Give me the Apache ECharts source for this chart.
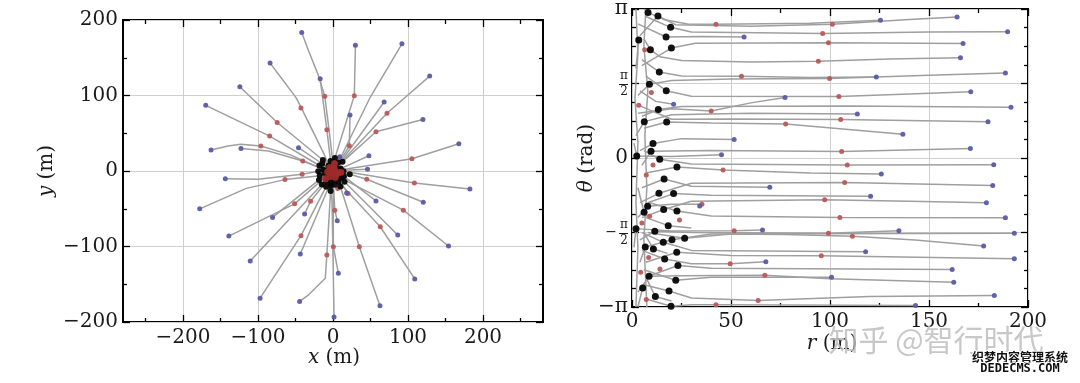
<!DOCTYPE html>
<html><head><meta charset="utf-8">
<script src="https://cdn.jsdelivr.net/npm/echarts@6/dist/echarts.min.js"></script>
<style>html,body{margin:0;padding:0;background:#fff}#c{width:1080px;height:383px}</style>
</head><body><div id="c"></div>
<script>
// ---------- LEFT PANEL: x (m), y (m) ----------
const xyTracks = [
 [[-3.4,2.1],[-13,1.9],[-56,21],[-96.2,33],[-123,35.4],[-140,33],[-162.6,27.7]],
 [[-6,0],[-8.1,0.6],[-40.3,13.2],[-86,26.5],[-122.7,29.9]],
 [[-6.9,1.1],[-18.1,7.3],[-84.4,46.2],[-169.7,87]],
 [[-2.9,0.9],[-14.3,9.6],[-46,30.8]],
 [[-1.8,4.6],[-13.5,14.6],[-74.4,64.2],[-124.2,111.6]],
 [[-4.9,3.5],[-6.1,7],[-11.7,22.1],[-42.4,84],[-49.3,97.2],[-62.6,114.8],[-83.9,142.9]],
 [[0.7,2.9],[0.1,8.8],[-4.7,49.8],[-10.9,98.9],[-20,128],[-32.5,159],[-41.7,183.3]],
 [[-2.4,4.4],[-3.3,13.4],[-8.2,54.7],[-17.1,122.2]],
 [[-1.1,6.9],[2.6,17.1],[28.4,99.8],[29.9,166.6]],
 [[1.8,2.4],[8,11],[21.8,33.4],[22.7,74.3]],
 [[0.6,4],[5,12],[8.9,19]],
 [[3.2,3.9],[7,11.3],[49.8,98],[91.9,168.4]],
 [[1.8,0.9],[4.5,4.3],[68.2,91.4]],
 [[1.8,3.6],[13.7,14.6],[72,76.5],[128.9,125.7]],
 [[4.9,3.5],[12.7,12.1],[57.3,51.9],[119.9,68.1]],
 [[4,0.6],[10.1,3.2],[47.9,20.2]],
 [[4.9,-0.8],[9.5,1.4],[105.2,16.3],[167.8,36]],
 [[1,0.3],[2.4,0.1],[46,2.2]],
 [[5.9,0.9],[14,-0.4],[108.5,-15.8],[182.5,-23.7]],
 [[6.7,-2.2],[22.3,-4.2],[45,-11],[120.4,-41.3]],
 [[4,-2.9],[14.6,-7],[57.3,-39.6]],
 [[2.4,-3.2],[10,-9.2],[93.8,-51.9],[154,-99.3]],
 [[4.7,-6.5],[15.4,-14.3],[86.3,-84.8]],
 [[0.9,-2.9],[4.1,-6.7],[20.1,-29.8],[18.2,-29]],
 [[1.5,-4.8],[7.4,-14.2],[63,-73.8],[109,-142.9]],
 [[5.3,-7.3],[9.9,-20.4],[35.1,-100.2],[62.6,-178.5]],
 [[-0.6,-4],[0.3,-11.5],[0.5,-100.2],[7.1,-135.4]],
 [[-0.3,-1],[0.2,-2],[2.4,-51.9],[5.7,-65.9]],
 [[-1.9,-5.7],[-3,-20],[-1.3,-40],[1.4,-193.4]],
 [[0,-8],[-3.2,-26.4],[-8.2,-111.4],[-10.3,-142],[-32.5,-164],[-44.5,-172.7]],
 [[0,-5],[-3.3,-15.5],[-43.6,-109.9]],
 [[-4.1,-5.7],[-9.2,-20.7],[-42.7,-85.7],[-97.2,-168.4]],
 [[-1.8,-4.6],[-8.7,-14],[-29.9,-40],[-37.9,-57.1]],
 [[-5.7,-4.1],[-14.9,-17.8],[-110.4,-119.1]],
 [[-4.2,-4.2],[-18.7,-11.8],[-80.6,-61.5]],
 [[-2.9,-0.9],[-6.9,-5.2],[-51.2,-43.5],[-138.9,-86.2]],
 [[-5.3,-2.7],[-17.7,-6.2],[-64,-11.4],[-115.6,-23],[-177.7,-50.1]],
 [[-7.9,-1.3],[-19.7,-0.3],[-41.2,-4.4],[-100,-11],[-143.6,-10.1]],
 [[0,0],[-2.7,2.1]],
 [[0,0],[2.5,-5.6]],
 [[1,-4],[2.6,-18.1]],
 [[0,0],[-2,-6.4]],
 [[-1,-3],[-3.7,-10.2]],
 [[0,0],[-5,-2.1]],
 [[-3,-1],[-11.5,-2.6]]
];
const xyBlack = [[-8.1,0.6],[-13,1.9],[-18.1,7.3],[-2.7,2.1],[-14.3,9.6],[-13.5,14.6],[-6.1,7],[-3.3,13.4],[0.1,8.8],[2.6,17.1],[7,11.3],[4.5,4.3],[12.7,12.1],[10.1,3.2],[9.5,1.4],[2.4,0.1],[14,-0.4],[22.3,-4.2],[14.6,-7],[10,-9.2],[15.4,-14.3],[4.1,-6.7],[2.5,-5.6],[7.4,-14.2],[9.9,-20.4],[2.6,-18.1],[0.3,-11.5],[0.2,-2],[-3,-20],[-3.2,-26.4],[-3.3,-15.5],[-2,-6.4],[-3.7,-10.2],[-9.2,-20.7],[-8.7,-14],[-14.9,-17.8],[-6.9,-5.2],[-18.7,-11.8],[-5,-2.1],[-17.7,-6.2],[-11.5,-2.6],[-19.7,-0.3]];
const xyRed = [[-96.2,33],[-40.3,13.2],[-84.4,46.2],[-74.4,64.2],[-42.7,83.5],[-10.9,98.9],[-8.2,54.7],[28.4,99.8],[21.8,33.4],[72,76.5],[57.3,51.9],[105.2,16.3],[108.5,-15.8],[45,-11],[93.8,-51.9],[20.1,-29.8],[63,-73.8],[35.1,-100.2],[0.5,-100.2],[2.4,-51.9],[-8.2,-111.4],[-42.7,-85.7],[-29.9,-40],[-51.2,-43.5],[-64,-11.4],[-41.2,-4.4],[6.3,-23.2]];
const xyRedCore = [[-4.2,4.8],[1.9,9.6],[1.6,3],[10.5,-1.6],[6.7,-2.5],[3,-8.4],[1,-4.9],[-4.2,-7.3],[-9.8,-10.1],[-3.3,-2.9],[-7.1,-1.1],[0,0],[-1,-3],[2,1],[4,-4],[-2,2]];
const xyBlue = [[-162.6,27.7],[-122.7,29.9],[-169.7,87],[-46,30.8],[-124.2,111.6],[-83.9,142.9],[-41.7,183.3],[-17.1,122.2],[29.9,166.6],[22.7,74.3],[8.9,19],[91.9,168.4],[68.2,91.4],[128.9,125.7],[119.9,68.1],[47.9,20.2],[167.8,36],[46,2.2],[182.5,-23.7],[120.4,-41.3],[57.3,-39.6],[154,-99.3],[86.3,-84.8],[18.2,-29],[109,-142.9],[62.6,-178.5],[7.1,-135.4],[5.7,-65.9],[1.4,-193.4],[-44.5,-172.7],[-43.6,-109.9],[-97.2,-168.4],[-37.9,-57.1],[-110.4,-119.1],[-80.6,-61.5],[-138.9,-86.2],[-177.7,-50.1],[-143.6,-10.1]];
const xMajorTicks = [-200,-100,0,100,200];
const xMinorTicks = [-250,-150,-50,50,150,250];
const yMajorTicks = [-200,-100,0,100,200];
const yMinorTicks = [-150,-50,50,150];

// ---------- RIGHT PANEL: r (m), theta (in units of pi) ----------
const rtTracks = [
 [[4,0.82],[13.1,0.953],[22,0.895],[60,0.885],[101.2,0.897],[140,0.93],[164.2,0.947]],
 [[6,1.0],[8.1,0.976],[16,0.93],[28,0.9],[42.4,0.897],[90,0.905],[125.5,0.924]],
 [[7,0.95],[19.5,0.877],[30,0.845],[96.3,0.835],[150,0.845],[189.7,0.848]],
 [[3,0.9],[17.2,0.812],[35,0.815],[56.6,0.812]],
 [[5,0.62],[19.9,0.738],[32,0.77],[99.2,0.773],[167.2,0.769]],
 [[6,0.8],[9.3,0.727],[14,0.68],[25,0.655],[60,0.645],[94.1,0.649],[130,0.665],[165.9,0.672]],
 [[3,0.42],[8.8,0.495],[20,0.52],[50,0.53],[99.8,0.534],[150,0.555],[188.6,0.57]],
 [[5,0.66],[13.8,0.577],[25,0.55],[55.3,0.548],[90,0.54],[123.4,0.543]],
 [[7,0.55],[17.3,0.452],[30,0.415],[104.5,0.413],[140,0.43],[171.1,0.444]],
 [[3,0.3],[20,0.33],[40,0.316],[60,0.37],[77.3,0.406]],
 [[4,0.45],[12,0.38],[21,0.36]],
 [[5,0.28],[13.3,0.325],[25,0.345],[109.6,0.349],[191.4,0.34]],
 [[2,0.15],[6.2,0.244],[20,0.29],[60,0.3],[113.8,0.295]],
 [[4,0.35],[20,0.26],[50,0.262],[105.4,0.259],[179.8,0.2435]],
 [[6,0.2],[17.5,0.242],[40,0.235],[77.6,0.228],[136.8,0.16]],
 [[4,0.05],[10.6,0.097],[25,0.13],[51.6,0.124]],
 [[5,-0.05],[9.6,0.045],[40,0.05],[105.9,0.043],[170.9,0.063]],
 [[1,0.1],[2.4,0.013],[20,0.01],[45.2,0.0225]],
 [[6,0.05],[14,-0.009],[30,-0.04],[108.7,-0.047],[182.7,-0.045]],
 [[7,-0.1],[22.7,-0.06],[46,-0.081],[90,-0.1],[125.9,-0.108]],
 [[5,-0.2],[16.2,-0.141],[30,-0.19],[69.6,-0.196]],
 [[4,-0.3],[13.6,-0.237],[30,-0.17],[107.4,-0.165],[182.2,-0.185]],
 [[8,-0.3],[21,-0.239],[40,-0.25],[120.5,-0.257]],
 [[3,-0.4],[7.9,-0.324],[20,-0.31],[35.3,-0.31],[34.2,-0.322]],
 [[5,-0.4],[16,-0.346],[30,-0.29],[97.3,-0.28],[140,-0.29],[179,-0.3]],
 [[9,-0.3],[22.7,-0.356],[40,-0.39],[105,-0.399],[188.6,-0.401]],
 [[4,-0.55],[11.5,-0.492],[30,-0.5],[99.2,-0.505],[134.8,-0.489]],
 [[1,-0.6],[2,-0.474],[20,-0.49],[51.6,-0.489],[65.9,-0.4825]],
 [[6,-0.6],[20.2,-0.548],[40,-0.51],[193.1,-0.505]],
 [[8,-0.5],[26.6,-0.539],[50,-0.51],[77,-0.513],[111.3,-0.525],[143,-0.55],[177.6,-0.591]],
 [[5,-0.5],[15.8,-0.566],[30,-0.62],[118,-0.629]],
 [[7,-0.7],[22.6,-0.633],[50,-0.655],[95.6,-0.656],[193.1,-0.676]],
 [[5,-0.62],[16.5,-0.678],[30,-0.71],[49.6,-0.71],[67.6,-0.697]],
 [[7,-0.8],[23.2,-0.722],[40,-0.74],[161.7,-0.749]],
 [[6,-0.75],[22.1,-0.821],[40,-0.8],[100.8,-0.8]],
 [[3,-0.9],[8.6,-0.794],[25,-0.79],[67.1,-0.787],[100,-0.81],[162.5,-0.834]],
 [[6,-0.85],[18.7,-0.893],[30,-0.94],[63.7,-0.956],[120,-0.93],[183,-0.922]],
 [[8,-0.95],[19.7,-0.995],[30,-0.985],[42.4,-0.985],[143.2,-0.99]],
 [[2,0.6],[3.4,0.792]],
 [[3,-0.2],[6.1,-0.364]],
 [[7,-0.4],[18.3,-0.454],[30,-0.47]],
 [[4,-0.7],[6.7,-0.597]],
 [[6,-0.5],[10.8,-0.611],[18,-0.64]],
 [[3,-1.0],[5.4,-0.872]],
 [[7,-0.8],[11.8,-0.93],[20,-0.96]],
 [[2,1],[3,0.7],[1.5,0.4],[3,0.1],[2,-0.3],[3,-0.6],[2,-1]],
 [[7,1],[6,0.75],[8,0.45],[6.5,0.15],[7.5,-0.2],[6,-0.55],[7.5,-1]]
];
const rtBlack = [[8.1,0.976],[13.1,0.953],[19.5,0.877],[3.4,0.792],[17.2,0.812],[19.9,0.738],[9.3,0.727],[13.8,0.577],[8.8,0.495],[17.3,0.452],[13.3,0.325],[6.2,0.244],[17.5,0.242],[10.6,0.097],[9.6,0.045],[2.4,0.013],[14,-0.009],[22.7,-0.06],[16.2,-0.141],[13.6,-0.237],[21,-0.239],[7.9,-0.324],[6.1,-0.364],[16,-0.346],[22.7,-0.356],[18.3,-0.454],[11.5,-0.492],[2,-0.474],[20.2,-0.548],[26.6,-0.539],[15.8,-0.566],[6.7,-0.597],[10.8,-0.611],[22.6,-0.633],[16.5,-0.678],[23.2,-0.722],[8.6,-0.794],[22.1,-0.821],[5.4,-0.872],[18.7,-0.893],[11.8,-0.93],[19.7,-0.995]];
const rtRed = [[101.2,0.897],[42.4,0.897],[96.3,0.835],[99.2,0.773],[94.1,0.649],[99.8,0.534],[55.3,0.548],[104.5,0.413],[40,0.316],[105.4,0.259],[77.6,0.228],[105.9,0.043],[108.7,-0.047],[46,-0.081],[107.4,-0.165],[35.3,-0.31],[97.3,-0.28],[105,-0.399],[99.2,-0.505],[51.6,-0.489],[111.3,-0.525],[95.6,-0.656],[49.6,-0.71],[67.1,-0.787],[63.7,-0.956],[42.4,-0.985],
 [6.4,0.727],[9.8,0.439],[3.4,0.354],[10.6,-0.047],[7.2,-0.114],[8.9,-0.391],[5,-0.436],[24,-0.416],[8.4,-0.668],[14.1,-0.745],[4.4,-0.767],[7.2,-0.95]];
const rtBlue = [[164.2,0.947],[125.5,0.924],[189.7,0.848],[56.6,0.812],[167.2,0.769],[165.9,0.672],[188.6,0.57],[123.4,0.543],[171.1,0.444],[77.3,0.406],[21,0.36],[191.4,0.34],[113.8,0.295],[179.8,0.2435],[136.8,0.16],[51.6,0.124],[170.9,0.063],[45.2,0.0225],[182.7,-0.045],[125.9,-0.108],[69.6,-0.196],[182.2,-0.185],[120.5,-0.257],[34.2,-0.322],[179,-0.3],[188.6,-0.401],[134.8,-0.489],[65.9,-0.4825],[193.1,-0.505],[177.6,-0.591],[118,-0.629],[193.1,-0.676],[67.6,-0.697],[161.7,-0.749],[100.8,-0.8],[162.5,-0.834],[183,-0.922],[143.2,-0.99]];
const rMajorTicks = [0,50,100,150,200];
const rMinorTicks = [25,75,125,175];
const thetaMajorTicks = [-1,-0.5,0,0.5,1];
const thetaMinorTicks = [-0.875,-0.75,-0.625,-0.375,-0.25,-0.125,0.125,0.25,0.375,0.625,0.75,0.875];
const thetaFractionTicks = [0.5,-0.5];

// ---------- chart ----------
const SERIF = 'DejaVu Serif';
const TXT = '#1a1a1a';
function numFmt(v){ return (v < 0 ? '\u2212' : '') + Math.abs(v); }
function thetaFmt(v){
  if (Math.abs(v - 1) < 1e-9) return '{pi|\u03c0}';
  if (Math.abs(v + 1) < 1e-9) return '{pi|\u2212\u03c0}';
  if (Math.abs(v) < 1e-9) return '{pi|0}';
  if (Math.abs(v - 0.5) < 1e-9) return '{fn|\u03c0}\n{gap| }\n{fn|2}';
  if (Math.abs(v + 0.5) < 1e-9) return '{fn|\u03c0}\n{mn|\u2212}{gap| }\n{fn|2}';
  return '';
}
const thetaRich = {
  pi: {fontFamily: SERIF, fontSize: 20, color: TXT},
  fn: {fontFamily: SERIF, fontSize: 12, lineHeight: 11, color: TXT, align: 'right', padding: [0,0,0,0]},
  gap: {fontSize: 4, lineHeight: 5, width: 9},
  mn: {fontFamily: SERIF, fontSize: 14, lineHeight: 5, color: TXT, padding: [0,2,0,0]}
};
function axisSet(kind, gridIndex, min, max, interval, majors, minors, fmt, margin, rich){
  const posA = kind === 'x' ? 'bottom' : 'left';
  const posB = kind === 'x' ? 'top' : 'right';
  const base = {type: 'value', gridIndex: gridIndex, min: min, max: max,
    axisLine: {show: false, onZero: false}, splitLine: {show: false},
    axisLabel: {show: false}, minorTick: {show: false}, minorSplitLine: {show: false}, z: 1};
  if (interval) base.interval = interval;
  const tick = (vals, len) => ({show: true, inside: true, length: len, customValues: vals,
    lineStyle: {color: '#000', width: 1.3}});
  const lab = {show: true, customValues: majors, formatter: fmt, fontFamily: SERIF,
    fontSize: 20, color: TXT, margin: margin};
  if (rich) lab.rich = rich;
  return [
    Object.assign({}, base, {position: posA, axisTick: tick(majors, 7), axisLabel: lab,
      splitLine: {show: true, lineStyle: {color: '#cfcfcf', width: 1}}}),
    Object.assign({}, base, {position: posA, axisTick: tick(minors, 4)}),
    Object.assign({}, base, {position: posB, axisTick: tick(majors, 7)}),
    Object.assign({}, base, {position: posB, axisTick: tick(minors, 4)})
  ];
}
const xAxes = [].concat(
  axisSet('x', 0, -280, 280, null, xMajorTicks, xMinorTicks, numFmt, 6),
  axisSet('x', 1, 0, 200, 50, rMajorTicks, rMinorTicks, numFmt, 5));
const yAxes = [].concat(
  axisSet('y', 0, -200, 200, 100, yMajorTicks, yMinorTicks, numFmt, 5),
  axisSet('y', 1, -1, 1, 0.5, thetaMajorTicks, thetaMinorTicks, thetaFmt, 4, thetaRich));

const LINE_COLOR = '#9f9f9f';
const BLUE = '#5a5ca6', RED = '#b85a58', BLACK = '#050505';
function lineS(track, ai){
  return {type: 'line', xAxisIndex: ai, yAxisIndex: ai, data: track, symbol: 'none',
    showSymbol: false, lineStyle: {color: LINE_COLOR, width: 1.5}, silent: true,
    animation: false, z: 2};
}
function scat(data, ai, color, size, z){
  return {type: 'scatter', xAxisIndex: ai, yAxisIndex: ai, data: data, symbolSize: size,
    itemStyle: {color: color, opacity: 0.95}, silent: true, animation: false, z: z};
}
const series = [];
xyTracks.forEach(t => series.push(lineS(t, 0)));
rtTracks.forEach(t => series.push(lineS(t, 4)));
series.push(scat(xyRed, 0, RED, 5, 4));
series.push(scat(xyBlue, 0, BLUE, 5, 4));
series.push(scat(xyBlack, 0, BLACK, 6, 5));
series.push(scat(xyRedCore, 0, '#9e2a2a', 7, 6));
series.push(scat(rtRed, 4, RED, 5, 4));
series.push(scat(rtBlue, 4, BLUE, 5, 4));
series.push(scat(rtBlack, 4, BLACK, 7, 5));

const titleRich = {i: {fontFamily: SERIF, fontSize: 20, fontStyle: 'italic', fill: TXT}};
const graphics = [
  {type: 'text', x: 334, y: 358, z: 50, style: {text: '{i|x} (m)', fontFamily: SERIF, fontSize: 20, fill: TXT, align: 'center', verticalAlign: 'middle', rich: titleRich}},
  {type: 'text', x: 47, y: 171, rotation: Math.PI / 2, z: 50, style: {text: '{i|y} (m)', fontFamily: SERIF, fontSize: 20, fill: TXT, align: 'center', verticalAlign: 'middle', rich: titleRich}},
  {type: 'text', x: 587, y: 158, rotation: Math.PI / 2, z: 50, style: {text: '{i|\u03b8} (rad)', fontFamily: SERIF, fontSize: 20, fill: TXT, align: 'center', verticalAlign: 'middle', rich: titleRich}},
  {type: 'text', x: 832, y: 344, z: 50, style: {text: '{i|r} (m)', fontFamily: SERIF, fontSize: 20, fill: TXT, align: 'center', verticalAlign: 'middle', rich: titleRich}},
  {type: 'text', x: 936, y: 340, z: 60, style: {text: '\u77e5\u4e4e @\u667a\u884c\u65f6\u4ee3', fontFamily: 'Noto Sans CJK SC', fontSize: 30, fill: 'rgba(190,190,190,0.85)', align: 'center', verticalAlign: 'middle'}},
  {type: 'text', x: 1020, y: 357, z: 61, style: {text: '\u7ec7\u68a6\u5185\u5bb9\u7ba1\u7406\u7cfb\u7edf', fontFamily: 'Noto Sans CJK SC', fontWeight: 'bold', fontSize: 12, fill: '#111', stroke: '#fff', lineWidth: 2, align: 'center', verticalAlign: 'middle'}},
  {type: 'text', x: 1020, y: 369, z: 61, style: {text: 'DEDECMS.COM', fontFamily: 'DejaVu Sans Mono', fontWeight: 'bold', fontSize: 12, fill: '#111', stroke: '#fff', lineWidth: 2, align: 'center', verticalAlign: 'middle'}}
];

const option = {
  backgroundColor: '#fff',
  animation: false,
  grid: [
    {left: 123, top: 20, width: 420, height: 302, show: true, borderColor: '#000', borderWidth: 2, backgroundColor: 'transparent', containLabel: false, outerBoundsMode: 'none'},
    {left: 632, top: 9, width: 396, height: 298, show: true, borderColor: '#000', borderWidth: 2, backgroundColor: 'transparent', containLabel: false, outerBoundsMode: 'none'}
  ],
  xAxis: xAxes,
  yAxis: yAxes,
  series: series,
  graphic: graphics
};
const chart = echarts.init(document.getElementById('c'), null, {renderer: 'canvas'});
chart.setOption(option);
// fraction bars for the pi/2 labels, placed through the theta axis scale
const x0 = chart.convertToPixel({xAxisIndex: 4}, 0);
thetaFractionTicks.forEach(function(v){
  const py = Math.round(chart.convertToPixel({yAxisIndex: 4}, v)) + 0.5;
  graphics.push({type: 'line', z: 50, shape: {x1: x0 - 13, y1: py, x2: x0 - 4, y2: py},
    style: {stroke: TXT, lineWidth: 1}});
});
chart.setOption({graphic: graphics});
</script>
</body></html>
